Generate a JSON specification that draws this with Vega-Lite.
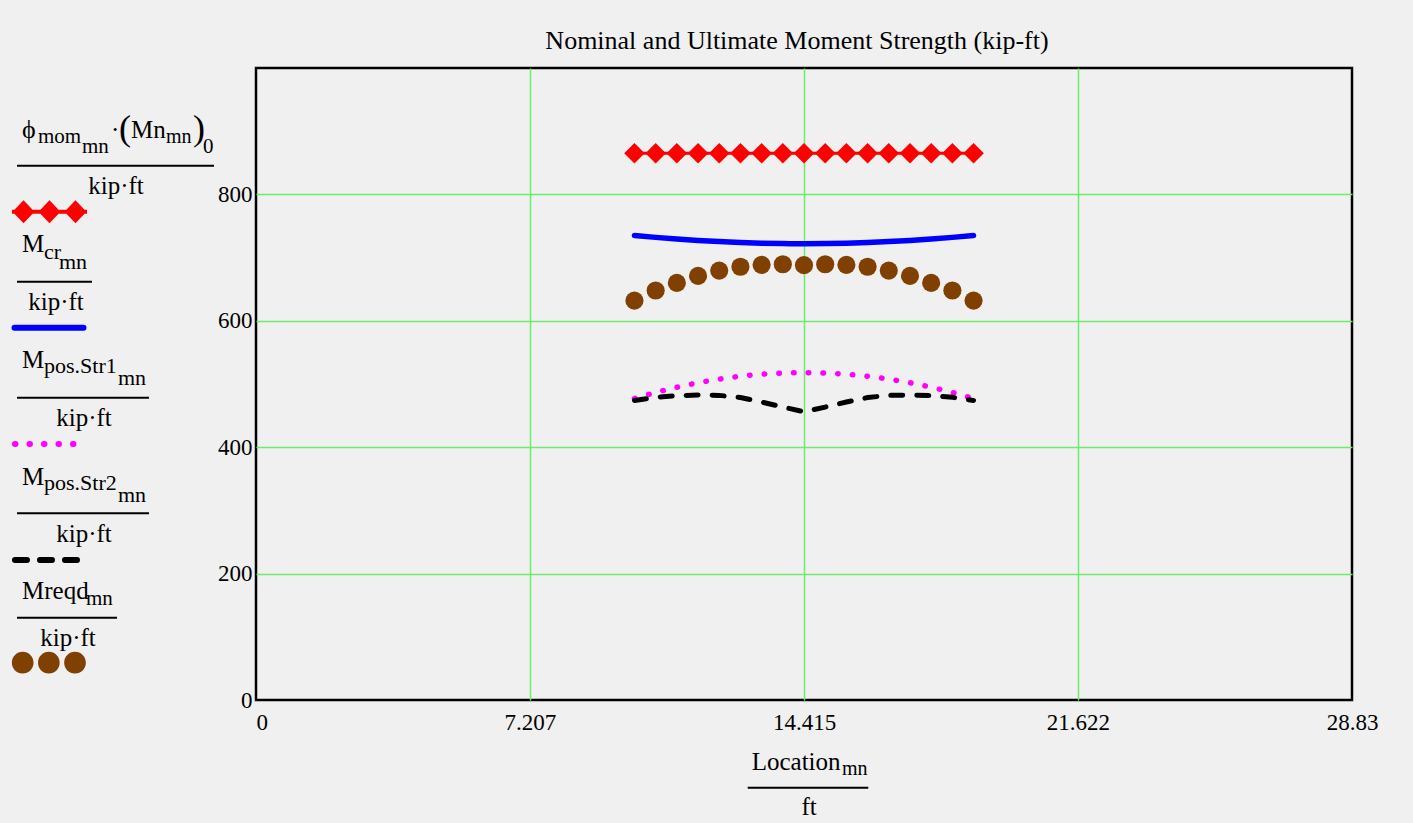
{
  "$schema": "https://vega.github.io/schema/vega-lite/v6.json",
  "width": 1096,
  "height": 632,
  "autosize": {"type": "none"},
  "padding": {"left": 256, "top": 68, "right": 61, "bottom": 123},
  "background": "#f0f0f0",
  "config": {
    "font": "Liberation Serif",
    "view": {"stroke": "black", "strokeWidth": 2.5, "fill": "#f0f0f0"},
    "axis": {
      "labelFont": "Liberation Serif",
      "labelFontSize": 23,
      "labelColor": "black",
      "ticks": false,
      "domain": false,
      "gridColor": "#6aee6a",
      "gridWidth": 1.5
    },
    "text": {"font": "Liberation Serif", "color": "black"}
  },
  "title": {
    "text": "Nominal and Ultimate Moment Strength (kip-ft)",
    "font": "Liberation Serif",
    "fontSize": 26,
    "fontWeight": "normal",
    "color": "black",
    "anchor": "middle",
    "offset": -7,
    "dx": -7,
    "baseline": "alphabetic"
  },
  "datasets": {
    "strength": [
      {"loc": 9.955, "phiMn": 865, "Mcr": 735, "Mstr1": 477, "Mstr2": 474, "Mreqd": 632},
      {"loc": 10.513, "phiMn": 865, "Mcr": 732, "Mstr1": 486.5, "Mstr2": 479, "Mreqd": 648},
      {"loc": 11.07, "phiMn": 865, "Mcr": 729.3, "Mstr1": 494.8, "Mstr2": 481.5, "Mreqd": 660},
      {"loc": 11.628, "phiMn": 865, "Mcr": 727.1, "Mstr1": 501.9, "Mstr2": 482.5, "Mreqd": 671},
      {"loc": 12.185, "phiMn": 865, "Mcr": 725.3, "Mstr1": 507.7, "Mstr2": 482, "Mreqd": 679.5},
      {"loc": 12.743, "phiMn": 865, "Mcr": 723.8, "Mstr1": 512.2, "Mstr2": 478.5, "Mreqd": 685.5},
      {"loc": 13.3, "phiMn": 865, "Mcr": 722.8, "Mstr1": 515.4, "Mstr2": 471.5, "Mreqd": 688.5},
      {"loc": 13.858, "phiMn": 865, "Mcr": 722.2, "Mstr1": 517.4, "Mstr2": 463.5, "Mreqd": 689.5},
      {"loc": 14.415, "phiMn": 865, "Mcr": 722, "Mstr1": 518, "Mstr2": 456, "Mreqd": 688},
      {"loc": 14.973, "phiMn": 865, "Mcr": 722.2, "Mstr1": 517.4, "Mstr2": 463.5, "Mreqd": 689.5},
      {"loc": 15.53, "phiMn": 865, "Mcr": 722.8, "Mstr1": 515.4, "Mstr2": 471.5, "Mreqd": 688.5},
      {"loc": 16.088, "phiMn": 865, "Mcr": 723.8, "Mstr1": 512.2, "Mstr2": 478.5, "Mreqd": 685.5},
      {"loc": 16.645, "phiMn": 865, "Mcr": 725.3, "Mstr1": 507.7, "Mstr2": 482, "Mreqd": 679.5},
      {"loc": 17.203, "phiMn": 865, "Mcr": 727.1, "Mstr1": 501.9, "Mstr2": 482.5, "Mreqd": 671},
      {"loc": 17.76, "phiMn": 865, "Mcr": 729.3, "Mstr1": 494.8, "Mstr2": 481.5, "Mreqd": 660},
      {"loc": 18.318, "phiMn": 865, "Mcr": 732, "Mstr1": 486.5, "Mstr2": 479, "Mreqd": 648},
      {"loc": 18.875, "phiMn": 865, "Mcr": 735, "Mstr1": 477, "Mstr2": 474, "Mreqd": 632}
    ]
  },
  "layer": [
    {
      "data": {"name": "strength"},
      "mark": {"type": "line", "color": "#ff0000", "strokeWidth": 3},
      "encoding": {
        "x": {
          "field": "loc", "type": "quantitative", "title": null,
          "scale": {"domain": [0, 28.83], "nice": false, "zero": false},
          "axis": {
            "values": [0, 7.207, 14.415, 21.622, 28.83],
            "format": ".5~g",
            "labelFlush": false,
            "labelAlign": {"condition": {"test": "datum.value === 0", "value": "left"}, "value": "center"},
            "labelPadding": 11,
            "grid": true,
            "gridOpacity": {"condition": {"test": "datum.value === 0 || datum.value === 28.83", "value": 0}, "value": 1}
          }
        },
        "y": {
          "field": "phiMn", "type": "quantitative", "title": null,
          "scale": {"domain": [0, 1000], "nice": false, "zero": false},
          "axis": {
            "values": [0, 200, 400, 600, 800],
            "labelPadding": 4,
            "grid": true,
            "labelFlush": false,
            "gridOpacity": {"condition": {"test": "datum.value === 0", "value": 0}, "value": 1}
          }
        }
      }
    },
    {
      "data": {"name": "strength"},
      "mark": {"type": "point", "shape": "diamond", "size": 420, "filled": true, "color": "#ff0000", "opacity": 1, "strokeWidth": 0},
      "encoding": {
        "x": {"field": "loc", "type": "quantitative", "title": null},
        "y": {"field": "phiMn", "type": "quantitative", "title": null}
      }
    },
    {
      "data": {"name": "strength"},
      "mark": {"type": "line", "color": "#0000ff", "strokeWidth": 5.5, "strokeCap": "round", "interpolate": "monotone"},
      "encoding": {
        "x": {"field": "loc", "type": "quantitative", "title": null},
        "y": {"field": "Mcr", "type": "quantitative", "title": null}
      }
    },
    {
      "data": {"name": "strength"},
      "mark": {"type": "line", "color": "#ff00ff", "strokeWidth": 5.5, "strokeCap": "round", "strokeDash": [0.5, 14.2], "interpolate": "monotone"},
      "encoding": {
        "x": {"field": "loc", "type": "quantitative", "title": null},
        "y": {"field": "Mstr1", "type": "quantitative", "title": null}
      }
    },
    {
      "data": {"name": "strength"},
      "mark": {"type": "line", "color": "#000000", "strokeWidth": 5, "strokeCap": "round", "strokeDash": [12, 14]},
      "encoding": {
        "x": {"field": "loc", "type": "quantitative", "title": null},
        "y": {"field": "Mstr2", "type": "quantitative", "title": null}
      }
    },
    {
      "data": {"name": "strength"},
      "mark": {"type": "point", "shape": "circle", "size": 330, "filled": true, "color": "#804000", "opacity": 1, "strokeWidth": 0},
      "encoding": {
        "x": {"field": "loc", "type": "quantitative", "title": null},
        "y": {"field": "Mreqd", "type": "quantitative", "title": null}
      }
    },
    {
      "data": {"values": [{}]},
      "layer": [
        {"mark": {"type": "text", "text": "ϕ", "align": "left", "baseline": "alphabetic", "fontSize": 26}, "encoding": {"x": {"datum": -6.155, "type": "quantitative"}, "y": {"datum": 889.2, "type": "quantitative"}}},
        {"mark": {"type": "text", "text": "mom", "align": "left", "baseline": "alphabetic", "fontSize": 21}, "encoding": {"x": {"datum": -5.734, "type": "quantitative"}, "y": {"datum": 881.3, "type": "quantitative"}}},
        {"mark": {"type": "text", "text": "mn", "align": "left", "baseline": "alphabetic", "fontSize": 21}, "encoding": {"x": {"datum": -4.577, "type": "quantitative"}, "y": {"datum": 865.5, "type": "quantitative"}}},
        {"mark": {"type": "text", "text": "·", "align": "left", "baseline": "alphabetic", "fontSize": 25}, "encoding": {"x": {"datum": -3.814, "type": "quantitative"}, "y": {"datum": 889.2, "type": "quantitative"}}},
        {"mark": {"type": "text", "text": "(", "align": "left", "baseline": "alphabetic", "fontSize": 36}, "encoding": {"x": {"datum": -3.604, "type": "quantitative"}, "y": {"datum": 886.1, "type": "quantitative"}}},
        {"mark": {"type": "text", "text": "Mn", "align": "left", "baseline": "alphabetic", "fontSize": 25}, "encoding": {"x": {"datum": -3.288, "type": "quantitative"}, "y": {"datum": 889.2, "type": "quantitative"}}},
        {"mark": {"type": "text", "text": "mn", "align": "left", "baseline": "alphabetic", "fontSize": 20}, "encoding": {"x": {"datum": -2.367, "type": "quantitative"}, "y": {"datum": 881.3, "type": "quantitative"}}},
        {"mark": {"type": "text", "text": ")", "align": "left", "baseline": "alphabetic", "fontSize": 36}, "encoding": {"x": {"datum": -1.657, "type": "quantitative"}, "y": {"datum": 886.1, "type": "quantitative"}}},
        {"mark": {"type": "text", "text": "0", "align": "left", "baseline": "alphabetic", "fontSize": 21}, "encoding": {"x": {"datum": -1.394, "type": "quantitative"}, "y": {"datum": 865.5, "type": "quantitative"}}},
        {"mark": {"type": "rule", "color": "black", "strokeWidth": 2}, "encoding": {"x": {"datum": -6.287, "type": "quantitative"}, "x2": {"datum": -1.105}, "y": {"datum": 845.4, "type": "quantitative"}}},
        {"mark": {"type": "text", "text": "kip·ft", "align": "center", "baseline": "alphabetic", "fontSize": 25}, "encoding": {"x": {"datum": -3.683, "type": "quantitative"}, "y": {"datum": 800.6, "type": "quantitative"}}},
        {"mark": {"type": "point", "shape": "M-1,-0.053H1V0.053H-1Z M-0.986,0L-0.693,-0.307L-0.4,0L-0.693,0.307Z M-0.293,0L0,-0.307L0.293,0L0,0.307Z M0.4,0L0.693,-0.307L0.986,0L0.693,0.307Z", "size": 5625, "filled": true, "color": "#ff0000", "opacity": 1, "strokeWidth": 0}, "encoding": {"x": {"datum": -5.432, "type": "quantitative"}, "y": {"datum": 772.6, "type": "quantitative"}}},

        {"mark": {"type": "text", "text": "M", "align": "left", "baseline": "alphabetic", "fontSize": 25}, "encoding": {"x": {"datum": -6.155, "type": "quantitative"}, "y": {"datum": 709.3, "type": "quantitative"}}},
        {"mark": {"type": "text", "text": "cr", "align": "left", "baseline": "alphabetic", "fontSize": 22}, "encoding": {"x": {"datum": -5.577, "type": "quantitative"}, "y": {"datum": 697.8, "type": "quantitative"}}},
        {"mark": {"type": "text", "text": "mn", "align": "left", "baseline": "alphabetic", "fontSize": 22}, "encoding": {"x": {"datum": -5.182, "type": "quantitative"}, "y": {"datum": 681.5, "type": "quantitative"}}},
        {"mark": {"type": "rule", "color": "black", "strokeWidth": 2}, "encoding": {"x": {"datum": -6.287, "type": "quantitative"}, "x2": {"datum": -4.314}, "y": {"datum": 661.9, "type": "quantitative"}}},
        {"mark": {"type": "text", "text": "kip·ft", "align": "center", "baseline": "alphabetic", "fontSize": 25}, "encoding": {"x": {"datum": -5.261, "type": "quantitative"}, "y": {"datum": 617.1, "type": "quantitative"}}},
        {"mark": {"type": "rule", "color": "#0000ff", "strokeWidth": 6, "strokeCap": "round"}, "encoding": {"x": {"datum": -6.353, "type": "quantitative"}, "x2": {"datum": -4.538}, "y": {"datum": 589.1, "type": "quantitative"}}},

        {"mark": {"type": "text", "text": "M", "align": "left", "baseline": "alphabetic", "fontSize": 25}, "encoding": {"x": {"datum": -6.155, "type": "quantitative"}, "y": {"datum": 524.8, "type": "quantitative"}}},
        {"mark": {"type": "text", "text": "pos.Str1", "align": "left", "baseline": "alphabetic", "fontSize": 22}, "encoding": {"x": {"datum": -5.577, "type": "quantitative"}, "y": {"datum": 516.9, "type": "quantitative"}}},
        {"mark": {"type": "text", "text": "mn", "align": "left", "baseline": "alphabetic", "fontSize": 22}, "encoding": {"x": {"datum": -3.63, "type": "quantitative"}, "y": {"datum": 498.4, "type": "quantitative"}}},
        {"mark": {"type": "rule", "color": "black", "strokeWidth": 2}, "encoding": {"x": {"datum": -6.287, "type": "quantitative"}, "x2": {"datum": -2.815}, "y": {"datum": 478.3, "type": "quantitative"}}},
        {"mark": {"type": "text", "text": "kip·ft", "align": "center", "baseline": "alphabetic", "fontSize": 25}, "encoding": {"x": {"datum": -4.524, "type": "quantitative"}, "y": {"datum": 433.5, "type": "quantitative"}}},
        {"mark": {"type": "rule", "color": "#ff00ff", "strokeWidth": 6, "strokeCap": "round", "strokeDash": [0.5, 14]}, "encoding": {"x": {"datum": -6.34, "type": "quantitative"}, "x2": {"datum": -4.79}, "y": {"datum": 405.1, "type": "quantitative"}}},

        {"mark": {"type": "text", "text": "M", "align": "left", "baseline": "alphabetic", "fontSize": 25}, "encoding": {"x": {"datum": -6.155, "type": "quantitative"}, "y": {"datum": 340.2, "type": "quantitative"}}},
        {"mark": {"type": "text", "text": "pos.Str2", "align": "left", "baseline": "alphabetic", "fontSize": 22}, "encoding": {"x": {"datum": -5.577, "type": "quantitative"}, "y": {"datum": 332.3, "type": "quantitative"}}},
        {"mark": {"type": "text", "text": "mn", "align": "left", "baseline": "alphabetic", "fontSize": 22}, "encoding": {"x": {"datum": -3.63, "type": "quantitative"}, "y": {"datum": 313.8, "type": "quantitative"}}},
        {"mark": {"type": "rule", "color": "black", "strokeWidth": 2}, "encoding": {"x": {"datum": -6.287, "type": "quantitative"}, "x2": {"datum": -2.815}, "y": {"datum": 295.4, "type": "quantitative"}}},
        {"mark": {"type": "text", "text": "kip·ft", "align": "center", "baseline": "alphabetic", "fontSize": 25}, "encoding": {"x": {"datum": -4.524, "type": "quantitative"}, "y": {"datum": 250.5, "type": "quantitative"}}},
        {"mark": {"type": "rule", "color": "#000000", "strokeWidth": 6, "strokeCap": "round", "strokeDash": [12, 13]}, "encoding": {"x": {"datum": -6.34, "type": "quantitative"}, "x2": {"datum": -4.709}, "y": {"datum": 221.5, "type": "quantitative"}}},

        {"mark": {"type": "text", "text": "Mreqd", "align": "left", "baseline": "alphabetic", "fontSize": 25}, "encoding": {"x": {"datum": -6.155, "type": "quantitative"}, "y": {"datum": 159.3, "type": "quantitative"}}},
        {"mark": {"type": "text", "text": "mn", "align": "left", "baseline": "alphabetic", "fontSize": 21}, "encoding": {"x": {"datum": -4.472, "type": "quantitative"}, "y": {"datum": 150.3, "type": "quantitative"}}},
        {"mark": {"type": "rule", "color": "black", "strokeWidth": 2}, "encoding": {"x": {"datum": -6.287, "type": "quantitative"}, "x2": {"datum": -3.656}, "y": {"datum": 130.2, "type": "quantitative"}}},
        {"mark": {"type": "text", "text": "kip·ft", "align": "center", "baseline": "alphabetic", "fontSize": 25}, "encoding": {"x": {"datum": -4.945, "type": "quantitative"}, "y": {"datum": 85.4, "type": "quantitative"}}},
        {"mark": {"type": "point", "shape": "M-1,0C-1,-0.1618 -0.8688,-0.293 -0.707,-0.293C-0.5452,-0.293 -0.414,-0.1618 -0.414,0C-0.414,0.1618 -0.5452,0.293 -0.707,0.293C-0.8688,0.293 -1,0.1618 -1,0Z M-0.293,0C-0.293,-0.1618 -0.1618,-0.293 0,-0.293C0.1618,-0.293 0.293,-0.1618 0.293,0C0.293,0.1618 0.1618,0.293 0,0.293C-0.1618,0.293 -0.293,0.1618 -0.293,0Z M0.414,0C0.414,-0.1618 0.5452,-0.293 0.707,-0.293C0.8688,-0.293 1,-0.1618 1,0C1,0.1618 0.8688,0.293 0.707,0.293C0.5452,0.293 0.414,0.1618 0.414,0Z", "size": 5476, "filled": true, "color": "#804000", "opacity": 1, "strokeWidth": 0}, "encoding": {"x": {"datum": -5.449, "type": "quantitative"}, "y": {"datum": 59.0, "type": "quantitative"}}},

        {"mark": {"type": "text", "text": "Location", "align": "left", "baseline": "alphabetic", "fontSize": 25}, "encoding": {"x": {"datum": 13.039, "type": "quantitative"}, "y": {"datum": -110.8, "type": "quantitative"}}},
        {"mark": {"type": "text", "text": "mn", "align": "left", "baseline": "alphabetic", "fontSize": 20}, "encoding": {"x": {"datum": 15.415, "type": "quantitative"}, "y": {"datum": -118.7, "type": "quantitative"}}},
        {"mark": {"type": "rule", "color": "black", "strokeWidth": 2}, "encoding": {"x": {"datum": 12.934, "type": "quantitative"}, "x2": {"datum": 16.106}, "y": {"datum": -138.8, "type": "quantitative"}}},
        {"mark": {"type": "text", "text": "ft", "align": "center", "baseline": "alphabetic", "fontSize": 25}, "encoding": {"x": {"datum": 14.547, "type": "quantitative"}, "y": {"datum": -182.0, "type": "quantitative"}}}
      ]
    }
  ]
}
